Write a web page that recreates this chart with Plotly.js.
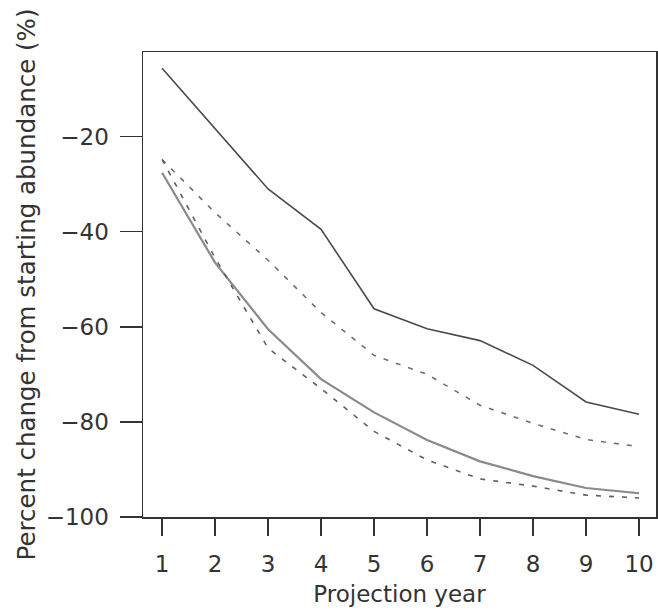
<!DOCTYPE html>
<html>
<head>
<meta charset="utf-8">
<script src="https://cdn.plot.ly/plotly-3.0.1.min.js"></script>
<style>html,body{margin:0;padding:0;background:#fff;}#chart{width:658px;height:616px;}</style>
</head>
<body>
<div id="chart"></div>
<script>
const years = [1, 2, 3, 4, 5, 6, 7, 8, 9, 10];
const upperSolid = [-5.6, -18.3, -31.0, -39.5, -56.2, -60.4, -62.9, -68.1, -75.8, -78.4];
const upperDashed = [-24.8, -36.0, -46.0, -57.0, -66.0, -70.0, -76.5, -80.3, -83.7, -85.2];
const lowerSolid = [-27.6, -46.5, -60.5, -71.0, -78.0, -83.8, -88.3, -91.4, -93.9, -95.0];
const lowerDashed = [-24.8, -45.5, -64.5, -73.0, -82.0, -88.0, -92.0, -93.5, -95.4, -96.0];
const yTicks = [-100, -80, -60, -40, -20];
const yTickText = ['\u2212100', '\u221280', '\u221260', '\u221240', '\u221220'];
const xTicks = years;

const font = 'DejaVu Sans, Liberation Sans, Arial, sans-serif';

const traces = [
  {x: years, y: upperSolid, mode: 'lines', line: {color: '#4a4a4a', width: 1.6}},
  {x: years, y: upperDashed, mode: 'lines', line: {color: '#707070', width: 1.6, dash: '5px,8px'}},
  {x: years, y: lowerSolid, mode: 'lines', line: {color: '#8a8a8a', width: 2.2}},
  {x: years, y: lowerDashed, mode: 'lines', line: {color: '#606060', width: 1.6, dash: '5px,8px'}}
];

const layout = {
  width: 658, height: 616,
  margin: {l: 143, r: 2, t: 52, b: 99},
  paper_bgcolor: '#ffffff', plot_bgcolor: '#ffffff',
  showlegend: false,
  font: {family: font, size: 23, color: '#333333'},
  xaxis: {
    range: [0.64, 10.32], tickvals: xTicks, ticktext: xTicks.map(String),
    ticks: 'outside', ticklen: 17, tickwidth: 1.5, tickcolor: '#333',
    showline: true, mirror: true, linecolor: '#333', linewidth: 1.5,
    showgrid: false, zeroline: false,
    ticklabelstandoff: 9,
    tickfont: {family: font, size: 23, color: '#333'},
    title: {text: 'Projection year', font: {family: font, size: 23, color: '#333'}, standoff: 10}
  },
  yaxis: {
    range: [-100, -2.2], tickvals: yTicks, ticktext: yTickText,
    ticks: 'outside', ticklen: 22, tickwidth: 1.5, tickcolor: '#333',
    showline: true, mirror: true, linecolor: '#333', linewidth: 1.5,
    showgrid: false, zeroline: false,
    ticklabelstandoff: 6,
    tickfont: {family: font, size: 23, color: '#333'},
    title: {text: 'Percent change from starting abundance (%)', font: {family: font, size: 24.5, color: '#333'}, standoff: 3}
  }
};

Plotly.newPlot('chart', traces, layout, {displayModeBar: false, staticPlot: true});
</script>
</body>
</html>
